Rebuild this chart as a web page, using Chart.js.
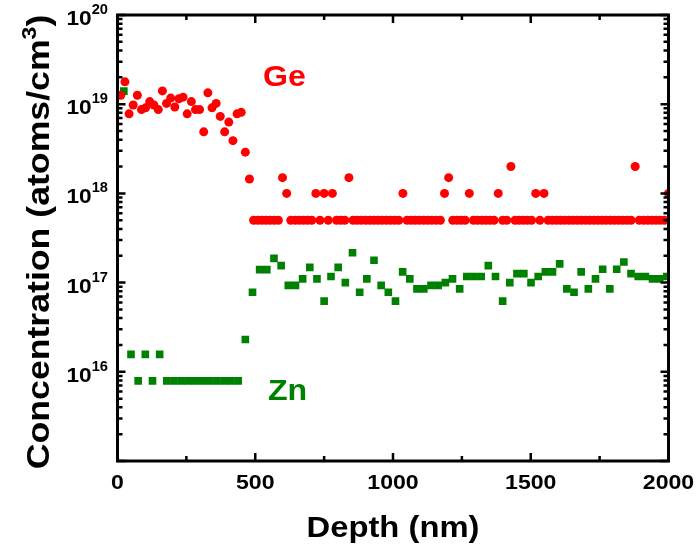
<!DOCTYPE html>
<html>
<head>
<meta charset="utf-8">
<script src="https://cdn.jsdelivr.net/npm/chart.js@4/dist/chart.umd.min.js"></script>
<style>
  html, body { margin: 0; padding: 0; background: #fff; }
  #wrap { width: 698px; height: 552px; }
</style>
</head>
<body>
<div id="wrap"><canvas id="c" width="698" height="552"></canvas></div>
<script>
// SIMS depth profile: Ge and Zn concentrations vs depth

const geDepth = [
  12, 27, 42, 57, 72, 87, 102, 117, 132, 148,
  163, 178, 193, 208, 223, 238, 253, 268, 283, 298,
  313, 328, 343, 358, 373, 389, 404, 419, 434, 449,
  464, 479, 494, 509, 524, 539, 554, 569, 584, 599,
  614, 629, 645, 660, 675, 690, 705, 720, 735, 750,
  765, 780, 795, 810, 825, 840, 855, 870, 885, 901,
  916, 931, 946, 961, 976, 991, 1006, 1021, 1036, 1051,
  1066, 1081, 1096, 1111, 1126, 1141, 1157, 1172, 1187, 1202,
  1217, 1232, 1247, 1262, 1277, 1292, 1307, 1322, 1337, 1352,
  1367, 1382, 1398, 1413, 1428, 1443, 1458, 1473, 1488, 1503,
  1518, 1533, 1548, 1563, 1578, 1593, 1608, 1623, 1639, 1654,
  1669, 1684, 1699, 1714, 1729, 1744, 1759, 1774, 1789, 1804,
  1819, 1834, 1849, 1864, 1879, 1894, 1910, 1925, 1940, 1955,
  1970, 1985, 2000
];

const geConc = [
  1.26e19, 1.78e19, 7.8e18, 9.8e18, 1.26e19, 8.7e18, 9.1e18, 1.07e19, 9.8e18, 8.7e18,
  1.41e19, 1.02e19, 1.17e19, 9.3e18, 1.15e19, 1.2e19, 7.8e18, 1.07e19, 8.7e18, 8.7e18,
  4.9e18, 1.34e19, 9.1e18, 1.02e19, 7.3e18, 4.9e18, 6.3e18, 3.9e18, 7.8e18, 8.1e18,
  2.9e18, 1.45e18, 5e17, 5e17, 5e17, 5e17, 5e17, 5e17, 5e17, 1.5e18,
  1e18, 5e17, 5e17, 5e17, 5e17, 5e17, 5e17, 1e18, 5e17, 1e18,
  5e17, 1e18, 5e17, 5e17, 5e17, 1.5e18, 5e17, 5e17, 5e17, 5e17,
  5e17, 5e17, 5e17, 5e17, 5e17, 5e17, 5e17, 5e17, 1e18, 5e17,
  5e17, 5e17, 5e17, 5e17, 5e17, 5e17, 5e17, 5e17, 1e18, 1.5e18,
  5e17, 5e17, 5e17, 5e17, 1e18, 5e17, 5e17, 5e17, 5e17, 5e17,
  5e17, 1e18, 5e17, 5e17, 2e18, 5e17, 5e17, 5e17, 5e17, 5e17,
  1e18, 5e17, 1e18, 5e17, 5e17, 5e17, 5e17, 5e17, 5e17, 5e17,
  5e17, 5e17, 5e17, 5e17, 5e17, 5e17, 5e17, 5e17, 5e17, 5e17,
  5e17, 5e17, 5e17, 5e17, 2e18, 5e17, 5e17, 5e17, 5e17, 5e17,
  5e17, 5e17, 1e18
];

const znDepth = [
  23, 49, 75, 101, 127, 153, 179, 205, 231, 257,
  283, 309, 335, 361, 387, 412, 438, 464, 490, 516,
  542, 568, 594, 620, 646, 672, 698, 724, 750, 775,
  801, 827, 853, 879, 905, 931, 957, 983, 1009, 1035,
  1061, 1087, 1112, 1138, 1164, 1190, 1216, 1242, 1268, 1294,
  1320, 1346, 1372, 1398, 1424, 1450, 1475, 1501, 1527, 1553,
  1579, 1605, 1631, 1657, 1683, 1709, 1735, 1761, 1787, 1812,
  1838, 1864, 1890, 1916, 1942, 1968, 1994
];

const znConc = [
  1.4e19, 1.57e16, 7.9e15, 1.57e16, 7.9e15, 1.57e16, 7.9e15, 7.9e15, 7.9e15, 7.9e15,
  7.9e15, 7.9e15, 7.9e15, 7.9e15, 7.9e15, 7.9e15, 7.9e15, 2.3e16, 7.8e16, 1.4e17,
  1.4e17, 1.87e17, 1.55e17, 9.3e16, 9.3e16, 1.1e17, 1.48e17, 1.1e17, 6.2e16, 1.17e17,
  1.48e17, 1.0e17, 2.16e17, 7.8e16, 1.1e17, 1.78e17, 9.3e16, 7.8e16, 6.2e16, 1.32e17,
  1.1e17, 8.5e16, 8.5e16, 9.3e16, 9.3e16, 1.0e17, 1.1e17, 8.5e16, 1.17e17, 1.17e17,
  1.17e17, 1.55e17, 1.17e17, 6.2e16, 1.0e17, 1.26e17, 1.26e17, 1.0e17, 1.17e17, 1.32e17,
  1.32e17, 1.62e17, 8.5e16, 7.8e16, 1.32e17, 8.5e16, 1.1e17, 1.41e17, 8.5e16, 1.41e17,
  1.7e17, 1.26e17, 1.17e17, 1.17e17, 1.1e17, 1.1e17, 1.17e17
];

const xTickValues = [0, 500, 1000, 1500, 2000];
const xMinorValues = [250, 750, 1250, 1750];
const yExponents = [16, 17, 18, 19, 20];

const FONT = '"Liberation Sans", Arial, sans-serif';

const toPoints = (xs, ys) => xs.map((d, i) => ({ x: d, y: ys[i] }));

// draw text with an optional horizontal stretch
function stretchText(ctx, text, x, y, font, color, align, sx) {
  ctx.save();
  ctx.font = font;
  ctx.fillStyle = color;
  ctx.textBaseline = 'alphabetic';
  const w = ctx.measureText(text).width * sx;
  let left = x;
  if (align === 'center') left = x - w / 2;
  else if (align === 'right') left = x - w;
  ctx.translate(left, y);
  ctx.scale(sx, 1);
  ctx.textAlign = 'left';
  ctx.fillText(text, 0, 0);
  ctx.restore();
  return w;
}

const framePlugin = {
  id: 'frame',
  afterDatasetsDraw(chart) {
    const { ctx, chartArea: a, scales: { x, y } } = chart;
    ctx.save();
    ctx.strokeStyle = '#000';
    ctx.lineCap = 'butt';

    // ticks, pointing inward on all four sides
    ctx.lineWidth = 2.5;
    const majLen = 8, minLen = 5;
    const hTick = (v, len) => {
      const px = x.getPixelForValue(v);
      ctx.beginPath();
      ctx.moveTo(px, a.bottom); ctx.lineTo(px, a.bottom - len);
      ctx.moveTo(px, a.top); ctx.lineTo(px, a.top + len);
      ctx.stroke();
    };
    xTickValues.forEach(v => hTick(v, majLen));
    xMinorValues.forEach(v => hTick(v, minLen));

    const vTick = (v, len) => {
      const py = y.getPixelForValue(v);
      ctx.beginPath();
      ctx.moveTo(a.left, py); ctx.lineTo(a.left + len, py);
      ctx.moveTo(a.right, py); ctx.lineTo(a.right - len, py);
      ctx.stroke();
    };
    for (let d = 15; d <= 20; d++) {
      vTick(Math.pow(10, d), majLen);
      if (d < 20) for (let m = 2; m <= 9; m++) vTick(m * Math.pow(10, d), minLen);
    }

    // frame
    ctx.lineWidth = 3;
    ctx.strokeRect(a.left, a.top, a.right - a.left, a.bottom - a.top);

    // x tick labels
    xTickValues.forEach(v => {
      stretchText(ctx, String(v), x.getPixelForValue(v), 489, 'bold 21px ' + FONT, '#000', 'center', 1.1);
    });

    // y tick labels: 10 with superscript exponent
    yExponents.forEach(e => {
      const py = y.getPixelForValue(Math.pow(10, e));
      const right = 108;
      ctx.font = 'bold 14px ' + FONT;
      const ew = ctx.measureText(String(e)).width * 1.05;
      stretchText(ctx, String(e), right, py - 1, 'bold 14px ' + FONT, '#000', 'right', 1.05);
      stretchText(ctx, '10', right - ew, py + 10, 'bold 21px ' + FONT, '#000', 'right', 1.08);
    });

    // x axis title
    stretchText(ctx, 'Depth (nm)', (a.left + a.right) / 2, 537, 'bold 29px ' + FONT, '#000', 'center', 1.13);

    // y axis title, rotated, with superscript 3
    ctx.save();
    ctx.translate(49, 242);
    ctx.rotate(-Math.PI / 2);
    const sy = 1.15;
    ctx.font = 'bold 31px ' + FONT;
    const p1 = 'Concentration (atoms/cm', p3 = ')';
    const w1 = ctx.measureText(p1).width;
    const w3 = ctx.measureText(p3).width;
    ctx.font = 'bold 20px ' + FONT;
    const w2 = ctx.measureText('3').width;
    const total = (w1 + w2 + w3) * sy;
    let cx = -total / 2;
    cx += stretchText(ctx, p1, cx, 0, 'bold 31px ' + FONT, '#000', 'left', sy);
    cx += stretchText(ctx, '3', cx, -13, 'bold 20px ' + FONT, '#000', 'left', sy);
    stretchText(ctx, p3, cx, 0, 'bold 31px ' + FONT, '#000', 'left', sy);
    ctx.restore();

    // series labels
    stretchText(ctx, 'Ge', 263, 86, 'bold 30px ' + FONT, '#ff0000', 'left', 1.07);
    stretchText(ctx, 'Zn', 268, 400, 'bold 30px ' + FONT, '#008000', 'left', 1.07);

    ctx.restore();
  }
};

new Chart(document.getElementById('c'), {
  type: 'scatter',
  data: {
    datasets: [
      {
        label: 'Ge',
        data: toPoints(geDepth, geConc),
        pointStyle: 'circle',
        pointRadius: 4.5,
        pointHoverRadius: 4.5,
        pointBorderWidth: 0,
        backgroundColor: '#ff0000',
        borderColor: '#ff0000',
        clip: 0
      },
      {
        label: 'Zn',
        data: toPoints(znDepth, znConc),
        pointStyle: 'rect',
        pointRadius: 5.4,
        pointHoverRadius: 5.4,
        pointBorderWidth: 0,
        backgroundColor: '#008000',
        borderColor: '#008000',
        clip: 0
      }
    ]
  },
  options: {
    responsive: false,
    animation: false,
    events: [],
    layout: { padding: { left: 117.5, right: 29.5, top: 15, bottom: 91 } },
    plugins: { legend: { display: false }, tooltip: { enabled: false } },
    scales: {
      x: { type: 'linear', min: 0, max: 2000, display: false },
      y: { type: 'logarithmic', min: 1e15, max: 1e20, display: false }
    }
  },
  plugins: [framePlugin]
});
</script>
</body>
</html>
